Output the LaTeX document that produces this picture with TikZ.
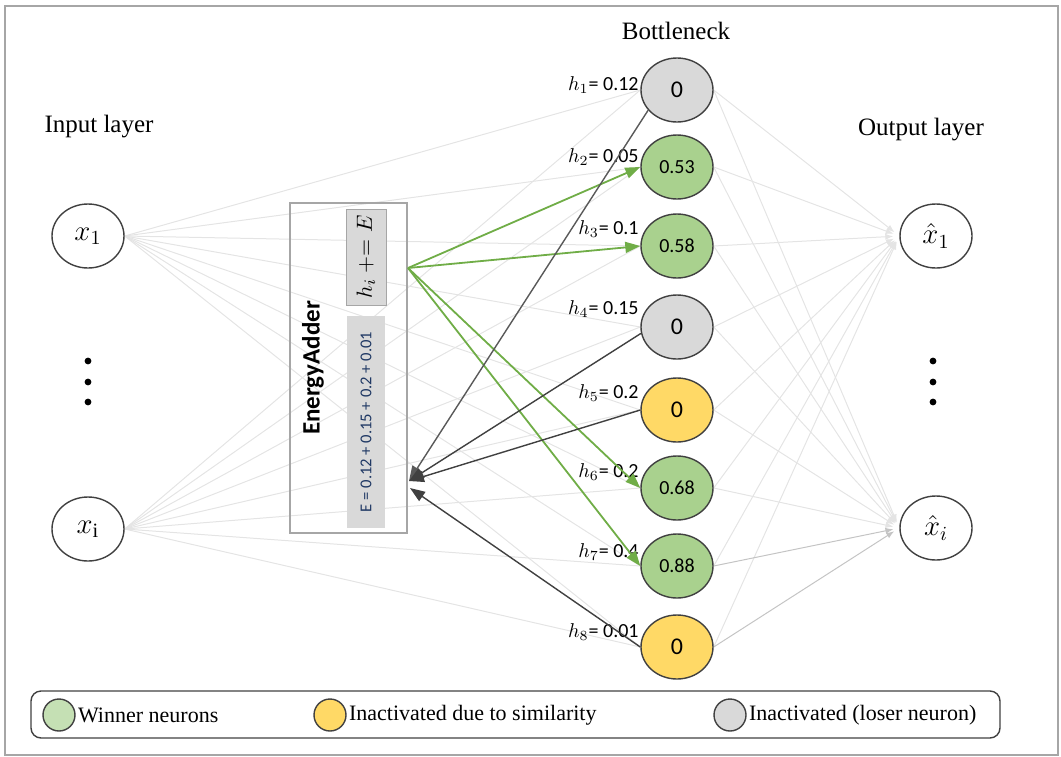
\documentclass[tikz,border=0pt]{standalone}
\usepackage{fontspec}
\setmainfont{Liberation Serif}
\setsansfont{Carlito}
\usetikzlibrary{arrows.meta, shapes.geometric, backgrounds}

\definecolor{winner}{HTML}{A9D18E}
\definecolor{winnerlight}{HTML}{C5E0B4}
\definecolor{similar}{HTML}{FFD966}
\definecolor{loser}{HTML}{D9D9D9}
\definecolor{edgegray}{HTML}{404040}
\definecolor{wirecol}{HTML}{E4E4E4}
\definecolor{wiredark}{HTML}{C4C4C4}
\definecolor{boxcol}{HTML}{A6A6A6}
\definecolor{greenarrow}{HTML}{70AD47}
\definecolor{formula}{HTML}{1F3864}

\tikzset{
  neuron/.style={ellipse, draw=edgegray, line width=0.7pt, minimum width=36pt,
    minimum height=32pt, inner sep=0pt, font=\fontsize{14.5}{16}\selectfont},
  zero/.style={font=\sffamily\fontsize{12}{14}\selectfont},
  frac/.style={font=\sffamily\fontsize{10}{12}\selectfont},
  hlabel/.style={anchor=east, inner sep=0pt, font=\sffamily\fontsize{10}{12}\selectfont},
  title/.style={inner sep=0pt, font=\fontsize{12.5}{15}\selectfont},
  wire/.style={draw=wirecol, line width=0.5pt},
  outwire/.style={wire, shorten >=3pt, -{Latex[length=4pt,width=3pt]}},
  winarrow/.style={draw=greenarrow, line width=0.9pt, -{Triangle[length=7.5pt,width=5.5pt]}},
  losearrow/.style={draw=edgegray, line width=0.7pt, -{Triangle[length=7.5pt,width=5.5pt]}},
  legdot/.style={circle, draw=edgegray, line width=0.7pt, minimum size=16pt, inner sep=0pt},
  legtext/.style={anchor=west, inner sep=1pt, font=\fontsize{11}{13}\selectfont}
}

\begin{document}
\begin{tikzpicture}[x=0.5pt, y=-0.5pt]
\useasboundingbox (0,0) rectangle (1061,756);
\draw[boxcol, line width=0.8pt] (5,6) rectangle (1058,755);

% layer titles
\node[title] (tin) at (99,127) {Input layer};
\node[title] (tbn) at (676,31) {Bottleneck};
\node[title] (tout) at (921,130) {Output layer};

% input and output layers
\node[neuron] (x1) at (88,236) {$x_1$};
\node[neuron] (xi) at (88,529) {$x_{\mathrm{i}}$};
\node[neuron] (o1) at (936,236) {$\hat{x}_1$};
\node[neuron] (oi) at (936,528) {$\hat{x}_i$};
\foreach \y in {361,382,402} {
  \fill (88,\y) circle (1.7pt);
  \fill (933,\y) circle (1.7pt);
}

% bottleneck
\foreach \i/\y/\c/\f/\v/\ly/\h in {1/90/loser/zero/0/85/0.12, 2/167/winner/frac/0.53/157/0.05,
    3/246/winner/frac/0.58/229/0.1, 4/327/loser/zero/0/309/0.15, 5/410/similar/zero/0/393/0.2,
    6/488/winner/frac/0.68/472/0.2, 7/566/winner/frac/0.88/552/0.4, 8/647/similar/zero/0/632/0.01} {
  \node[neuron, fill=\c, \f] (b\i) at (677,\y) {\v};
  \node[hlabel] (h\i) at (639,\ly) {$h_{\i}$= \h};
}

% dense connections
\begin{scope}[on background layer]
  \foreach \i in {1,...,8} {
    \draw[wire] (x1.east) -- (b\i.west);
    \draw[wire] (xi.east) -- (b\i.west);
    \draw[outwire] (b\i.east) -- (o1.west);
  }
  \foreach \i in {1,...,6}
    \draw[outwire] (b\i.east) -- (oi.west);
  \draw[outwire, draw=wiredark] (b7.east) -- (oi.west);
  \draw[outwire, draw=wiredark] (b8.east) -- (oi.west);
\end{scope}

% energy adder
\node[draw=boxcol, line width=0.7pt, minimum width=58.5pt, minimum height=165pt] (adder) at (348.5,368) {};
\node[rotate=90, font=\sffamily\bfseries\fontsize{12.5}{14}\selectfont] (atitle) at (313,368) {EnergyAdder};
\node[rotate=90, fill=loser, draw=boxcol, minimum width=48pt, minimum height=20pt, inner sep=0pt,
  font=\fontsize{11}{13}\selectfont] (upd) at (366,257) {$h_i \mathrel{+{=}} E$};
\node[rotate=90, fill=loser, minimum width=106pt, minimum height=19pt, inner sep=0pt, text=formula,
  font=\sffamily\fontsize{8.3}{10}\selectfont] (esum) at (366,422) {E = 0.12 + 0.15 + 0.2 + 0.01};

\coordinate (src) at (408,268);
\coordinate (sink) at (409,481);
\coordinate (sink8) at (410,488);
\foreach \i in {2,3,6,7}
  \draw[winarrow] (src) -- (b\i.west);
\draw[losearrow, draw=gray!70!black] (b1.215) -- (sink);
\draw[losearrow] (b4.190) -- (sink);
\draw[losearrow] (b5.west) -- (sink);
\draw[losearrow] (b8.west) -- (sink8);

% legend
\node[draw=edgegray, rounded corners=5pt, line width=0.7pt, minimum width=484.5pt, minimum height=23.5pt] (legend) at (515.5,714.5) {};
\node[legdot, fill=winnerlight] (lwin) at (59,715) {};
\node[legtext] (twin) at (lwin.east) {Winner neurons};
\node[legdot, fill=similar] (lsim) at (330,715) {};
\node[legtext] (tsim) at (lsim.east) {Inactivated due to similarity};
\node[legdot, fill=loser] (llos) at (730,715) {};
\node[legtext] (tlos) at (llos.east) {Inactivated (loser neuron)};
\end{tikzpicture}
\end{document}
